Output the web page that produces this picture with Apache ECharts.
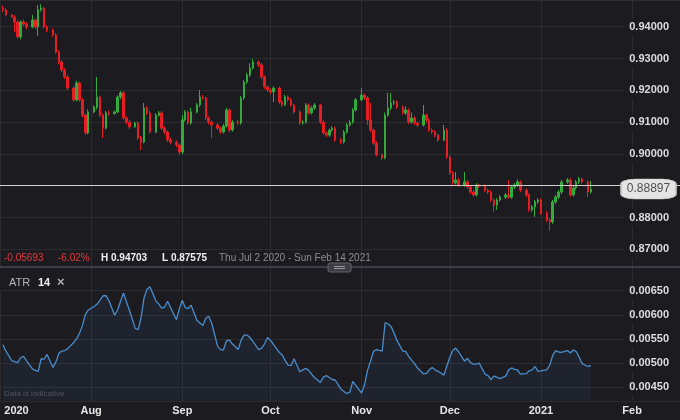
<!DOCTYPE html>
<html><head><meta charset="utf-8">
<script src="https://cdn.jsdelivr.net/npm/echarts@6/dist/echarts.min.js"></script>
<style>html,body{margin:0;padding:0;background:#1c1c20;}#c{width:680px;height:420px;}</style>
</head><body><div id="c"></div>
<script>
// ---- data (daily candles, Sun-Fri, Jul 2 2020 .. Jan 18 2021) ----
const firstDay = [2020, 6, 2];
const lastDay = [2021, 0, 18];
const opens = [
.9459,.9453,.9437,.9431,.9415,.9368,.9415,.9409,.9399,.9421,
.9399,.9453,.9459,.9399,.9390,.9374,.9320,.9289,.9264,.9242,
.9207,.9170,.9223,.9170,.9122,.9066,.9132,.9147,.9179,.9122,
.9081,.9129,.9127,.9132,.9179,.9192,.9113,.9100,.9085,.9097,
.9050,.9037,.9144,.9129,.9069,.9122,.9129,.9081,.9069,.9044,
.9037,.9028,.9006,.9107,.9132,.9097,.9132,.9154,.9179,.9176,
.9113,.9100,.9091,.9081,.9069,.9088,.9138,.9075,.9100,.9097,
.9176,.9226,.9248,.9270,.9289,.9280,.9242,.9210,.9201,.9195,
.9207,.9163,.9154,.9179,.9170,.9154,.9132,.9097,.9100,.9154,
.9129,.9144,.9154,.9100,.9066,.9059,.9075,.9081,.9044,.9037,
.9069,.9091,.9100,.9138,.9170,.9185,.9176,.9107,.9075,.9034,
.8997,.8987,.9122,.9144,.9160,.9163,.9147,.9129,.9138,.9100,
.9113,.9097,.9091,.9122,.9107,.9075,.9069,.9059,.9044,.9075,
.8990,.8940,.8909,.8918,.8902,.8912,.8896,.8880,.8871,.8902,
.8899,.8886,.8880,.8855,.8839,.8855,.8864,.8871,.8864,.8896,
.8902,.8912,.8886,.8871,.8824,.8833,.8849,.8855,.8814,.8792,
.8786,.8849,.8864,.8880,.8912,.8918,.8871,.8893,.8912,.8921,
.8912,.8880];
const closes = [
.9453,.9437,.9431,.9415,.9368,.9415,.9409,.9399,.9421,.9399,
.9453,.9459,.9399,.9390,.9374,.9320,.9289,.9264,.9242,.9207,
.9170,.9223,.9170,.9122,.9066,.9132,.9147,.9179,.9122,.9081,
.9129,.9127,.9132,.9179,.9192,.9113,.9100,.9085,.9097,.9050,
.9037,.9144,.9129,.9069,.9122,.9129,.9081,.9069,.9044,.9037,
.9028,.9006,.9107,.9132,.9097,.9132,.9154,.9179,.9176,.9113,
.9100,.9091,.9081,.9069,.9088,.9138,.9075,.9100,.9097,.9176,
.9226,.9248,.9270,.9289,.9280,.9242,.9210,.9201,.9195,.9207,
.9163,.9154,.9179,.9170,.9154,.9132,.9097,.9100,.9154,.9129,
.9144,.9154,.9100,.9066,.9059,.9075,.9081,.9044,.9037,.9069,
.9091,.9100,.9138,.9170,.9185,.9176,.9107,.9075,.9034,.8997,
.8987,.9122,.9144,.9160,.9163,.9147,.9129,.9138,.9100,.9113,
.9097,.9091,.9122,.9107,.9075,.9069,.9059,.9044,.9075,.8990,
.8940,.8909,.8918,.8902,.8912,.8896,.8880,.8871,.8902,.8899,
.8886,.8880,.8855,.8839,.8855,.8864,.8871,.8864,.8896,.8902,
.8912,.8886,.8871,.8824,.8833,.8849,.8855,.8814,.8792,.8786,
.8849,.8864,.8880,.8912,.8918,.8871,.8893,.8912,.8921,.8912,
.8880,.88897];
const lows = [
.9446,.9432,.9428,.9383,.9362,.9360,.9402,.9392,.9395,.9393,
.9371,.9448,.9394,.9383,.9368,.9315,.9282,.9258,.9236,.9200,
.9163,.9165,.9164,.9115,.9060,.9062,.9128,.9140,.9116,.9050,
.9077,.9120,.9124,.9128,.9172,.9108,.9093,.9078,.9082,.9044,
.9012,.9033,.9122,.9063,.9065,.9117,.9075,.9062,.9038,.9030,
.9021,.8997,.9000,.9102,.9091,.9092,.9128,.9148,.9170,.9107,
.9093,.9050,.9075,.9062,.9064,.9083,.9068,.9070,.9090,.9092,
.9170,.9220,.9242,.9265,.9274,.9236,.9204,.9195,.9188,.9163,
.9157,.9148,.9150,.9164,.9148,.9126,.9091,.9092,.9095,.9123,
.9124,.9139,.9094,.9060,.9053,.9054,.9070,.9038,.9031,.9032,
.9064,.9086,.9095,.9133,.9165,.9170,.9091,.9069,.9028,.8992,
.8980,.8983,.9117,.9138,.9154,.9141,.9123,.9122,.9094,.9095,
.9091,.9085,.9086,.9100,.9069,.9063,.9053,.9038,.9040,.8984,
.8934,.8903,.8904,.8896,.8897,.8890,.8874,.8865,.8866,.8893,
.8880,.8874,.8849,.8818,.8824,.8850,.8858,.8858,.8859,.8890,
.8896,.8880,.8865,.8818,.8818,.8802,.8843,.8808,.8786,.87575,
.8780,.8843,.8858,.8874,.8906,.8865,.8866,.8887,.8906,.8906,
.8864,.8875];
const highs = [
.9466,.9458,.9441,.9436,.9420,.9420,.9422,.9414,.9437,.9425,
.9468,.94703,.9462,.9405,.9395,.9380,.9326,.9295,.9270,.9248,
.9212,.9230,.9228,.9175,.9127,.9140,.9152,.9242,.9183,.9127,
.9135,.9136,.9137,.9184,.9198,.9196,.9118,.9106,.9101,.9102,
.9056,.9160,.9150,.9134,.9128,.9135,.9134,.9087,.9074,.9050,
.9042,.9033,.9122,.9138,.9137,.9145,.9160,.9201,.9185,.9180,
.9118,.9105,.9096,.9086,.9094,.9145,.9143,.9106,.9107,.9182,
.9232,.9255,.9285,.9299,.9293,.9286,.9247,.9216,.9206,.9212,
.9212,.9168,.9185,.9184,.9175,.9158,.9137,.9105,.9160,.9158,
.9150,.9160,.9158,.9105,.9071,.9080,.9087,.9086,.9050,.9075,
.9097,.9106,.9144,.9176,.9207,.9190,.9182,.9160,.9080,.9040,
.9002,.9130,.9192,.9192,.9170,.9168,.9152,.9150,.9143,.9130,
.9118,.9102,.9154,.9127,.9112,.9080,.9074,.9064,.9091,.9080,
.8996,.8946,.8943,.8924,.8943,.8918,.8901,.8886,.8908,.8906,
.8904,.8891,.8885,.8860,.8861,.8870,.8877,.8918,.8902,.8908,
.8920,.8917,.8891,.8876,.8839,.8855,.8861,.8860,.8820,.8798,
.8855,.8870,.8886,.8918,.8924,.8924,.8899,.8918,.8928,.8926,
.8917,.8915];
const atr = [
.00538,.00525,.00505,.00503,.00501,.00511,.00514,.00505,.00488,.00485,
.00483,.00509,.00508,.00518,.00491,.00502,.00520,.00525,.00526,.00530,
.00542,.00550,.00561,.00577,.00600,.00610,.00617,.00622,.00630,.00639,
.00640,.00630,.00599,.00610,.00628,.00645,.00627,.00610,.00572,.00569,
.00595,.00635,.00653,.00658,.00629,.00622,.00614,.00616,.00628,.00615,
.00590,.00612,.00630,.00615,.00613,.00620,.00588,.00583,.00578,.00593,
.00597,.00583,.00535,.00528,.00527,.00546,.00548,.00540,.00528,.00547,
.00558,.00558,.00553,.00545,.00528,.00531,.00540,.00553,.00547,.00539,
.00522,.00517,.00505,.00496,.00495,.00509,.00482,.00486,.00489,.00485,
.00477,.00470,.00460,.00471,.00474,.00470,.00466,.00465,.00446,.00441,
.00437,.00440,.00462,.00454,.00438,.00455,.00485,.00503,.00524,.00528,
.00525,.00584,.00581,.00576,.00563,.00547,.00525,.00524,.00514,.00506,
.00499,.00490,.00478,.00478,.00486,.00491,.00486,.00483,.00475,.00494,
.00512,.00526,.00531,.00523,.00504,.00510,.00501,.00498,.00498,.00500,
.00477,.00474,.00466,.00473,.00471,.00468,.00473,.00486,.00490,.00487,
.00486,.00477,.00478,.00484,.00486,.00493,.00483,.00484,.00486,.00496,
.00516,.00526,.00523,.00522,.00526,.00521,.00527,.00524,.00512,.00499,
.00493,.00495];
const monthNames = ['Jan','Feb','Mar','Apr','May','Jun','Jul','Aug','Sep','Oct','Nov','Dec'];
const rangeText = 'Thu Jul 2 2020 - Sun Feb 14 2021';
const atrTitle = 'ATR', atrPeriod = '14';
const noteText = 'Data is indicative';

// ---- build dates (skip Saturdays) ----
const dates = [];
for (let d = new Date(firstDay[0], firstDay[1], firstDay[2]); d <= new Date(lastDay[0], lastDay[1], lastDay[2]); d.setDate(d.getDate() + 1)) {
  if (d.getDay() !== 6) dates.push(d.getTime());
}
const candleData = dates.map((t, i) => [t, opens[i], closes[i], lows[i], highs[i]]);
const atrData = dates.map((t, i) => [t, atr[i]]);

const xMin = new Date(2020, 6, 1).getTime();
const xMax = new Date(2021, 1, 17, 7).getTime();
const tagTime = new Date(2021, 1, 6, 14).getTime();
const lastClose = closes[closes.length - 1];
const firstOpen = opens[0];
const change = lastClose - firstOpen;
const changePct = change / firstOpen * 100;
const hi = Math.max.apply(null, highs), lo = Math.min.apply(null, lows);

const BG = '#1c1c20', GRID = '#2b2b30', FONT = '"Liberation Sans", Arial, sans-serif';
const UP = '#33aa3c', DOWN = '#e61e23';

const xLabelFmt = function (v) {
  const d = new Date(v);
  if (d.getDate() !== 1 || d.getHours() !== 0) return '';
  if (v === xMin) return '{first|' + d.getFullYear() + '}';
  if (d.getMonth() === 0) return String(d.getFullYear());
  return monthNames[d.getMonth()];
};
const yLabel = {
  inside: true, margin: 0, color: '#dcdcdc', fontWeight: 'bold', fontSize: 11, fontFamily: FONT,
  backgroundColor: BG, padding: [3, 11, 3, 5], showMinLabel: false, showMaxLabel: false
};

const chart = echarts.init(document.getElementById('c'), null, { renderer: 'canvas' });
chart.setOption({
  backgroundColor: BG,
  animation: false,
  grid: [
    { left: 0, right: 0, top: 0, height: 267, outerBoundsMode: 'none', containLabel: false },
    { left: 0, right: 0, top: 267, height: 134, outerBoundsMode: 'none', containLabel: false }
  ],
  xAxis: [
    { type: 'time', gridIndex: 0, min: xMin, max: xMax, splitNumber: 8, minInterval: 27 * 86400000,
      axisLabel: { show: false }, axisTick: { show: false },
      axisLine: { show: true, lineStyle: { color: '#46464c', width: 1.5 } },
      splitLine: { show: true, lineStyle: { color: GRID, width: 1 } } },
    { type: 'time', gridIndex: 1, min: xMin, max: xMax, splitNumber: 8, minInterval: 27 * 86400000,
      axisLabel: { show: true, formatter: xLabelFmt, color: '#e6e6e6', fontWeight: 'bold', fontSize: 11,
        fontFamily: FONT, margin: 4, showMaxLabel: false, hideOverlap: false,
        rich: { first: { color: '#e6e6e6', fontWeight: 'bold', fontSize: 11, fontFamily: FONT, padding: [0, 0, 0, 33] } } },
      axisTick: { show: false }, axisLine: { show: false },
      splitLine: { show: true, lineStyle: { color: GRID, width: 1 } } }
  ],
  yAxis: [
    { type: 'value', gridIndex: 0, position: 'right', min: 0.86443, max: 0.9484, splitNumber: 8,
      axisLine: { show: false }, axisTick: { show: false },
      axisLabel: Object.assign({ formatter: v => v.toFixed(5) }, yLabel),
      splitLine: { show: true, lineStyle: { color: GRID, width: 1 } } },
    { type: 'value', gridIndex: 1, position: 'right', min: 0.004215, max: 0.00699, splitNumber: 6,
      axisLine: { show: false }, axisTick: { show: false },
      axisLabel: Object.assign({ formatter: v => v.toFixed(5) }, yLabel),
      splitLine: { show: true, lineStyle: { color: GRID, width: 1 } } }
  ],
  series: [
    { type: 'candlestick', xAxisIndex: 0, yAxisIndex: 0, data: candleData,
      encode: { x: 0, y: [1, 2, 3, 4] }, barWidth: 2,
      itemStyle: { color: UP, color0: DOWN, borderColor: UP, borderColor0: DOWN, borderWidth: 1 },
      markLine: { silent: true, symbol: ['none', 'none'], animation: false,
        label: { show: false },
        lineStyle: { color: '#cfcfcf', width: 1, type: 'solid' },
        data: [{ yAxis: lastClose }] },
      markPoint: { silent: true, animation: false,
        data: [{ coord: [tagTime, lastClose], symbol: 'roundRect', symbolSize: [55, 20],
          itemStyle: { color: '#e4e4e4', borderColor: '#c4c4c4', borderWidth: 1 },
          label: { show: true, position: 'inside', formatter: lastClose.toFixed(5),
            color: '#505050', fontSize: 12, fontFamily: FONT } }] }
    },
    { type: 'line', xAxisIndex: 1, yAxisIndex: 1, data: atrData, symbol: 'none', smooth: false,
      lineStyle: { color: '#4a8dcc', width: 1.3 },
      areaStyle: { color: 'rgba(60,120,190,0.12)', origin: 'start' } }
  ],
  graphic: [
    { type: 'text', x: 4, y: 258, z: 100, style: { text: change.toFixed(5), fill: '#e0393e', font: '10px ' + FONT, verticalAlign: 'middle', textVerticalAlign: 'middle' } },
    { type: 'text', x: 58, y: 258, z: 100, style: { text: changePct.toFixed(2) + '%', fill: '#e0393e', font: '10px ' + FONT, verticalAlign: 'middle', textVerticalAlign: 'middle' } },
    { type: 'text', x: 101, y: 258, z: 100, style: { text: 'H ' + hi.toFixed(5), fill: '#f0f0f0', font: 'bold 10px ' + FONT, verticalAlign: 'middle', textVerticalAlign: 'middle' } },
    { type: 'text', x: 162, y: 258, z: 100, style: { text: 'L ' + lo.toFixed(5), fill: '#f0f0f0', font: 'bold 10px ' + FONT, verticalAlign: 'middle', textVerticalAlign: 'middle' } },
    { type: 'text', x: 219, y: 258, z: 100, style: { text: rangeText, fill: '#8c8c90', font: '10px ' + FONT, verticalAlign: 'middle', textVerticalAlign: 'middle' } },
    { type: 'rect', z: 90, shape: { x: 0, y: 268, width: 73, height: 22 }, style: { fill: BG } },
    { type: 'text', x: 9, y: 283, z: 100, style: { text: atrTitle, fill: '#b4b4b8', font: '11px ' + FONT, verticalAlign: 'middle', textVerticalAlign: 'middle' } },
    { type: 'text', x: 38, y: 283, z: 100, style: { text: atrPeriod, fill: '#f0f0f0', font: 'bold 11px ' + FONT, verticalAlign: 'middle', textVerticalAlign: 'middle' } },
    { type: 'text', x: 57, y: 282, z: 100, style: { text: '\u00d7', fill: '#b0b0b4', font: 'bold 13px ' + FONT, verticalAlign: 'middle', textVerticalAlign: 'middle' } },
    { type: 'text', x: 4, y: 394, z: 100, style: { text: noteText, fill: '#55555b', font: '8px ' + FONT, verticalAlign: 'middle', textVerticalAlign: 'middle' } },
    { type: 'rect', z: 100, shape: { x: 328, y: 263, width: 23, height: 9, r: 2 }, style: { fill: '#3c3c42', stroke: '#606066', lineWidth: 1 } },
    { type: 'line', z: 101, shape: { x1: 334, y1: 266.5, x2: 345, y2: 266.5 }, style: { stroke: '#9a9a9e', lineWidth: 1 } },
    { type: 'line', z: 101, shape: { x1: 334, y1: 268.5, x2: 345, y2: 268.5 }, style: { stroke: '#9a9a9e', lineWidth: 1 } }
  ]
});
</script>
</body></html>
